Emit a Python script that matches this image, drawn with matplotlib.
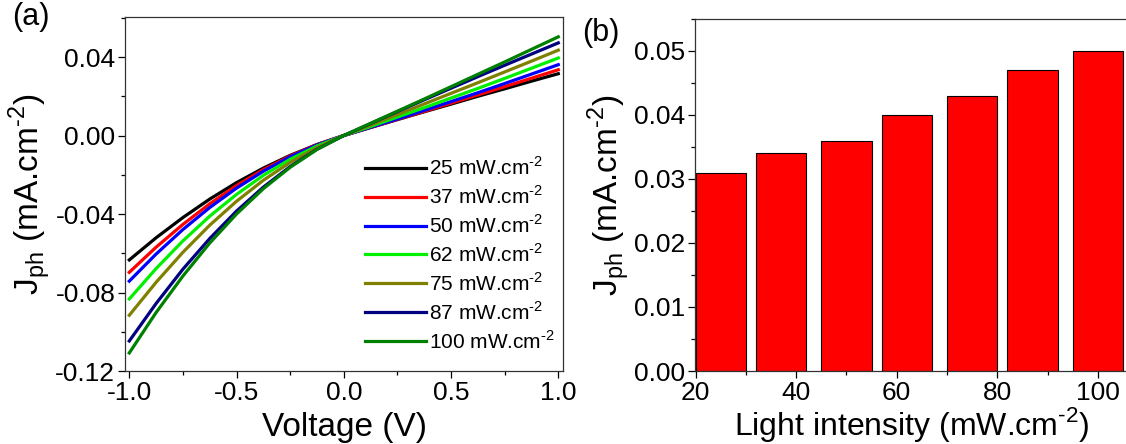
import matplotlib
matplotlib.use("Agg")
import matplotlib.pyplot as plt
from matplotlib.ticker import MultipleLocator

plt.rcParams['font.family'] = ['Liberation Sans', 'DejaVu Sans']
plt.rcParams['mathtext.fontset'] = 'custom'
plt.rcParams['mathtext.rm'] = 'Liberation Sans'
plt.rcParams['axes.unicode_minus'] = False

# (a) photocurrent vs voltage
voltage = [-1.0, -0.875, -0.75, -0.625, -0.5, -0.375, -0.25, -0.125, 0.0,
           0.125, 0.25, 0.375, 0.5, 0.625, 0.75, 0.875, 1.0]
j_25 = [-0.0634, -0.0521, -0.0418, -0.0324, -0.0240, -0.0166, -0.0101, -0.0046, 0.0,
        0.0041, 0.0081, 0.0121, 0.0160, 0.0200, 0.0238, 0.0277, 0.0315]
j_37 = [-0.0697, -0.0569, -0.0453, -0.0348, -0.0255, -0.0174, -0.0104, -0.0046, 0.0,
        0.0041, 0.0082, 0.0123, 0.0165, 0.0207, 0.0249, 0.0292, 0.0335]
j_50 = [-0.0742, -0.0604, -0.0479, -0.0367, -0.0268, -0.0182, -0.0108, -0.0048, 0.0,
        0.0042, 0.0084, 0.0128, 0.0173, 0.0218, 0.0265, 0.0313, 0.0361]
j_62 = [-0.0833, -0.0678, -0.0537, -0.0411, -0.0300, -0.0203, -0.0121, -0.0053, 0.0,
        0.0046, 0.0094, 0.0142, 0.0191, 0.0240, 0.0291, 0.0343, 0.0395]
j_75 = [-0.0916, -0.0748, -0.0595, -0.0457, -0.0335, -0.0228, -0.0137, -0.0061, 0.0,
        0.0053, 0.0107, 0.0161, 0.0215, 0.0269, 0.0324, 0.0379, 0.0435]
j_87 = [-0.1047, -0.0856, -0.0681, -0.0525, -0.0385, -0.0263, -0.0158, -0.0070, 0.0,
        0.0061, 0.0122, 0.0182, 0.0241, 0.0300, 0.0358, 0.0415, 0.0472]
j_100 = [-0.1108, -0.0902, -0.0716, -0.0548, -0.0400, -0.0271, -0.0162, -0.0071, 0.0,
         0.0062, 0.0124, 0.0186, 0.0249, 0.0312, 0.0375, 0.0439, 0.0503]
curves = [j_25, j_37, j_50, j_62, j_75, j_87, j_100]
labels = ['25', '37', '50', '62', '75', '87', '100']
colors = ['#000000', '#FF0000', '#0000FF', '#00F000', '#808000', '#000080', '#008000']

# (b) photocurrent at 1 V vs light intensity
intensity = [25, 37, 50, 62, 75, 87, 100]
j_bar = [0.031, 0.034, 0.036, 0.040, 0.043, 0.047, 0.050]

unit_a = r'(mA.cm$^{\text{-2}}$)'
unit_w = r'mW.cm$^{\text{-2}}$'

W, H = 1126, 444
fig = plt.figure(figsize=(W / 100, H / 100), dpi=100)

ax1 = fig.add_axes([125 / W, 73 / H, 438 / W, 354 / H])
for y, lab, c in zip(curves, labels, colors):
    ax1.plot(voltage, y, color=c, lw=2.3, label=lab + ' ' + unit_w)
ax1.set_xlim(-1.02, 1.022)
ax1.set_ylim(-0.12, 0.0604)
ax1.xaxis.set_major_locator(MultipleLocator(0.5))
ax1.xaxis.set_minor_locator(MultipleLocator(0.25))
ax1.yaxis.set_major_locator(MultipleLocator(0.04))
ax1.yaxis.set_minor_locator(MultipleLocator(0.02))
ax1.xaxis.set_major_formatter(plt.FormatStrFormatter('%.1f'))
ax1.yaxis.set_major_formatter(plt.FormatStrFormatter('%.2f'))
ax1.set_xlabel('Voltage (V)', fontsize=24, labelpad=5)
ax1.set_ylabel(r'J$_{\mathregular{ph}}$ ' + unit_a, fontsize=24, labelpad=2)
leg = ax1.legend(loc='upper left', bbox_to_anchor=(0.525, 0.635), frameon=False,
                 fontsize=15, handlelength=2.9, handletextpad=0.15,
                 labelspacing=0.3, borderpad=0)
ax1.text(-0.258, 1.0, '(a)', transform=ax1.transAxes, fontsize=22, va='center', ha='left')

ax2 = fig.add_axes([695 / W, 73 / H, 434 / W, 352 / H])
ax2.bar(intensity, j_bar, width=10, color='#FF0000', edgecolor='black', linewidth=0.8)
ax2.set_xlim(19.9, 106.2)
ax2.set_ylim(0, 0.055)
ax2.xaxis.set_major_locator(MultipleLocator(20))
ax2.xaxis.set_minor_locator(MultipleLocator(10))
ax2.yaxis.set_major_locator(MultipleLocator(0.01))
ax2.yaxis.set_minor_locator(MultipleLocator(0.005))
ax2.yaxis.set_major_formatter(plt.FormatStrFormatter('%.2f'))
ax2.set_xlabel('Light intensity (' + unit_w + ')', fontsize=23, labelpad=0)
ax2.set_ylabel(r'J$_{\mathregular{ph}}$ ' + unit_a, fontsize=24, labelpad=2)
ax2.spines['right'].set_visible(False)
ax2.text(-0.26, 0.96, '(b)', transform=ax2.transAxes, fontsize=22, va='center', ha='left')

for ax in (ax1, ax2):
    ax.tick_params(which='both', direction='out', labelsize=19, top=False, right=False)
    ax.tick_params(which='major', length=5, width=0.9, pad=2)
    ax.tick_params(which='minor', length=3, width=0.9)
    for s in ax.spines.values():
        s.set_linewidth(0.9)
        s.set_color('#333333')

fig.savefig('out.png', dpi=100)
